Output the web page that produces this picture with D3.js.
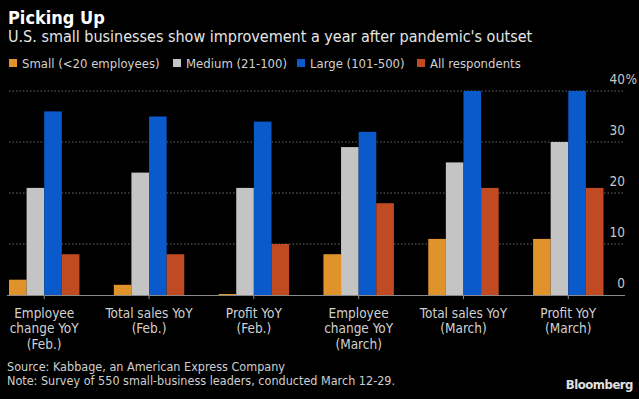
<!DOCTYPE html>
<html><head><meta charset="utf-8">
<script src="https://cdn.jsdelivr.net/npm/d3@7"></script>
<style>
html,body{margin:0;padding:0;background:#000;}
svg{display:block;}
text{font-family:"DejaVu Sans Condensed","DejaVu Sans",sans-serif;}
</style></head>
<body>
<svg id="c" width="639" height="399"></svg>
<script>
const categories = [
  ["Employee","change YoY","(Feb.)"],
  ["Total sales YoY","(Feb.)"],
  ["Profit YoY","(Feb.)"],
  ["Employee","change YoY","(March)"],
  ["Total sales YoY","(March)"],
  ["Profit YoY","(March)"]
];
const seriesNames = ["Small (<20 employees)","Medium (21-100)","Large (101-500)","All respondents"];
const seriesColors = ["#e0922b","#c4c4c4","#0a5acb","#c04a22"];
const small  = [3, 2, 0.2, 8, 11, 11];
const medium = [21, 24, 21, 29, 26, 30];
const large  = [36, 35, 34, 32, 40, 40];
const all    = [8, 8, 10, 18, 21, 21];
const yTicks = [0, 10, 20, 30, 40];

const values = [small, medium, large, all];
const catKeys = categories.map(c => c.join(" "));

const svg = d3.select("#c");
svg.append("rect").attr("width",639).attr("height",399).attr("fill","#000");

// Titles
svg.append("text").attr("x",8).attr("y",24).attr("fill","#fff")
  .attr("font-size",18).attr("font-weight","bold").text("Picking Up");
svg.append("text").attr("x",8).attr("y",42).attr("fill","#e6e6e6")
  .attr("font-size",16).text("U.S. small businesses show improvement a year after pandemic's outset");

// Legend
const legendX = [9, 173, 297, 417];
const lg = svg.append("g");
seriesNames.forEach((n,i)=>{
  lg.append("rect").attr("x",legendX[i]).attr("y",59).attr("width",8).attr("height",8).attr("fill",seriesColors[i]);
  lg.append("text").attr("x",legendX[i]+13).attr("y",67.5).attr("fill","#d0d0d0").attr("font-size",13).text(n);
});

// Scales
const x = d3.scaleBand().domain(catKeys).range([9, 603.5]).paddingInner(0.328).paddingOuter(0);
const xs = d3.scaleBand().domain(seriesNames).range([0, x.bandwidth()]).padding(0);
const y = d3.scaleLinear().domain([0,40]).range([295, 91]);

// Gridlines
const grid = svg.append("g");
yTicks.filter(t=>t>0).forEach(t=>{
  grid.append("line").attr("x1",9).attr("x2",625).attr("y1",y(t)).attr("y2",y(t))
    .attr("stroke","#6a6a6a").attr("stroke-width",1).attr("stroke-dasharray","1.5,2");
});
// Y labels
const yl = svg.append("g");
yTicks.forEach(t=>{
  yl.append("text").attr("x",625).attr("y",y(t)-7).attr("text-anchor","end")
    .attr("fill","#c8c8c8").attr("font-size",13.5).text(t);
  if (t===40) yl.append("text").attr("x",625.5).attr("y",y(t)-7).attr("fill","#c8c8c8").attr("font-size",13.5).text("%");
});

// Bars
const bars = svg.append("g");
values.forEach((vals,si)=>{
  bars.selectAll(null).data(vals).enter().append("rect")
    .attr("x",(d,i)=>x(catKeys[i]) + xs(seriesNames[si]))
    .attr("width",xs.bandwidth())
    .attr("y",d=>y(d))
    .attr("height",d=>y(0)-y(d))
    .attr("fill",seriesColors[si]);
});

// X axis
const xAxis = d3.axisBottom(x).tickSize(4).tickSizeOuter(0).tickFormat("");
const ax = svg.append("g").attr("transform",`translate(0,${y(0)})`).call(xAxis);
ax.select(".domain").remove();
ax.selectAll(".tick line").attr("stroke","#8a8a8a");
svg.append("line").attr("x1",7).attr("x2",625).attr("y1",y(0)+0.5).attr("y2",y(0)+0.5)
  .attr("stroke","#8a8a8a").attr("stroke-width",1);
// X labels
categories.forEach((lines,i)=>{
  const cx = x(catKeys[i]) + x.bandwidth()/2;
  const t = svg.append("text").attr("x",cx).attr("y",317.5).attr("text-anchor","middle")
    .attr("fill","#d0d0d0").attr("font-size",13.5);
  lines.forEach((l,j)=>{
    t.append("tspan").attr("x",cx).attr("dy", j===0?0:15.7).text(l);
  });
});

// Footer
svg.append("text").attr("x",7).attr("y",371).attr("fill","#cfcfcf").attr("font-size",12.5)
  .text("Source: Kabbage, an American Express Company");
svg.append("text").attr("x",7).attr("y",384.5).attr("fill","#cfcfcf").attr("font-size",12.5)
  .text("Note: Survey of 550 small-business leaders, conducted March 12-29.");
svg.append("text").attr("x",633).attr("y",389).attr("text-anchor","end").attr("fill","#e0e0e0")
  .attr("font-size",13).attr("font-weight","bold").attr("font-family","Liberation Sans, Arial, sans-serif")
  .attr("letter-spacing",-0.5).text("Bloomberg");
</script>
</body></html>
